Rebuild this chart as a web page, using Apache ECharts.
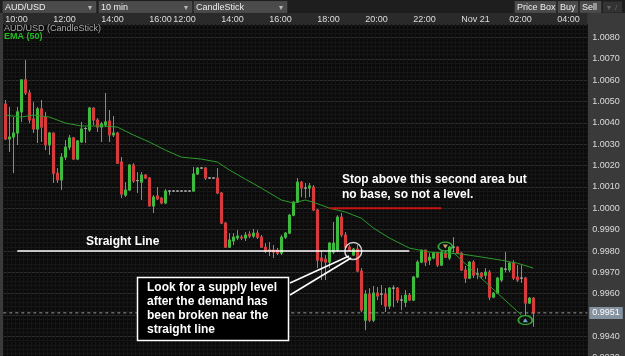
<!DOCTYPE html>
<html>
<head>
<meta charset="utf-8">
<script src="https://cdn.jsdelivr.net/npm/echarts@6/dist/echarts.min.js"></script>
<style>
  html, body { margin: 0; padding: 0; background: #3a3a3a; }
  #chart { width: 625px; height: 356px; }
</style>
</head>
<body>
<div id="chart"></div>
<script>
var FONT = "'Liberation Sans', Arial, sans-serif";

// 10 min AUD/USD candles: [open, close, low, high]
var candles = [
  [1.00489, 1.00325, 1.00320, 1.00508], [1.00325, 1.00334, 1.00264, 1.00475], [1.00334, 1.00353, 1.00165, 1.00428],
  [1.00353, 1.00452, 1.00297, 1.00475], [1.00452, 1.00602, 1.00405, 1.00602], [1.00602, 1.00541, 1.00531, 1.00695],
  [1.00541, 1.00414, 1.00400, 1.00555], [1.00419, 1.00372, 1.00353, 1.00498], [1.00372, 1.00466, 1.00306, 1.00475],
  [1.00466, 1.00381, 1.00311, 1.00508], [1.00428, 1.00297, 1.00273, 1.00452], [1.00297, 1.00353, 1.00250, 1.00358],
  [1.00353, 1.00165, 1.00119, 1.00353], [1.00165, 1.00133, 1.00119, 1.00189], [1.00133, 1.00240, 1.00086, 1.00259],
  [1.00240, 1.00287, 1.00226, 1.00320], [1.00287, 1.00330, 1.00273, 1.00344], [1.00330, 1.00231, 1.00226, 1.00334],
  [1.00231, 1.00316, 1.00226, 1.00320], [1.00311, 1.00372, 1.00306, 1.00405], [1.00374, 1.00374, 1.00306, 1.00381],
  [1.00367, 1.00470, 1.00358, 1.00475], [1.00470, 1.00414, 1.00390, 1.00470], [1.00414, 1.00381, 1.00358, 1.00423],
  [1.00381, 1.00395, 1.00311, 1.00405], [1.00391, 1.00405, 1.00381, 1.00541], [1.00409, 1.00344, 1.00311, 1.00461],
  [1.00344, 1.00353, 1.00334, 1.00433], [1.00353, 1.00212, 1.00208, 1.00358], [1.00217, 1.00067, 1.00048, 1.00240],
  [1.00062, 1.00086, 1.00053, 1.00123], [1.00086, 1.00203, 1.00081, 1.00208], [1.00203, 1.00128, 1.00119, 1.00212],
  [1.00130, 1.00130, 1.00072, 1.00170], [1.00123, 1.00156, 1.00039, 1.00170], [1.00156, 1.00142, 1.00137, 1.00160],
  [1.00142, 1.00011, 1.00011, 1.00147], [1.00011, 1.00053, 0.99978, 1.00062], [1.00058, 1.00044, 1.00039, 1.00100],
  [1.00048, 1.00025, 1.00020, 1.00053], [1.00025, 1.00081, 1.00020, 1.00090], [1.00081, 1.00081, 1.00062, 1.00086],
  [1.00081, 1.00081, 1.00081, 1.00081], [1.00081, 1.00081, 1.00081, 1.00081], [1.00081, 1.00081, 1.00081, 1.00081],
  [1.00081, 1.00081, 1.00081, 1.00081], [1.00081, 1.00081, 1.00081, 1.00081], [1.00081, 1.00161, 1.00081, 1.00194],
  [1.00161, 1.00189, 1.00156, 1.00194], [1.00189, 1.00189, 1.00189, 1.00189], [1.00189, 1.00142, 1.00133, 1.00194],
  [1.00142, 1.00142, 1.00142, 1.00142], [1.00142, 1.00142, 1.00142, 1.00142], [1.00142, 1.00072, 1.00067, 1.00189],
  [1.00072, 0.99931, 0.99926, 1.00076], [0.99931, 0.99818, 0.99814, 0.99935], [0.99818, 0.99851, 0.99814, 0.99884],
  [0.99847, 0.99865, 0.99828, 0.99884], [0.99861, 0.99870, 0.99851, 0.99898], [0.99865, 0.99861, 0.99851, 0.99875],
  [0.99861, 0.99875, 0.99847, 0.99889], [0.99879, 0.99870, 0.99861, 0.99893], [0.99870, 0.99884, 0.99861, 0.99903],
  [0.99884, 0.99865, 0.99856, 0.99898], [0.99865, 0.99818, 0.99814, 0.99875], [0.99818, 0.99800, 0.99790, 0.99837],
  [0.99805, 0.99800, 0.99776, 0.99842], [0.99804, 0.99795, 0.99767, 0.99828], [0.99804, 0.99790, 0.99781, 0.99814],
  [0.99790, 0.99865, 0.99781, 0.99875], [0.99865, 0.99884, 0.99856, 0.99889], [0.99884, 0.99968, 0.99879, 0.99973],
  [0.99968, 1.00029, 0.99963, 1.00034], [1.00029, 1.00123, 1.00025, 1.00142], [1.00123, 1.00095, 1.00053, 1.00128],
  [1.00095, 1.00095, 1.00048, 1.00119], [1.00095, 1.00105, 1.00053, 1.00119], [1.00100, 0.99992, 0.99987, 1.00109],
  [0.99992, 0.99757, 0.99720, 0.99997], [0.99767, 0.99753, 0.99664, 0.99804], [0.99762, 0.99748, 0.99664, 0.99781],
  [0.99748, 0.99837, 0.99720, 0.99842], [0.99795, 0.99837, 0.99786, 0.99936], [0.99804, 0.99959, 0.99795, 0.99968],
  [0.99959, 0.99875, 0.99865, 0.99978], [0.99875, 0.99818, 0.99809, 0.99889], [0.99818, 0.99805, 0.99800, 0.99828],
  [0.99781, 0.99809, 0.99776, 0.99814], [0.99809, 0.99706, 0.99701, 0.99828], [0.99706, 0.99523, 0.99513, 0.99720],
  [0.99476, 0.99598, 0.99429, 0.99617], [0.99598, 0.99476, 0.99467, 0.99626], [0.99476, 0.99603, 0.99467, 0.99636],
  [0.99603, 0.99589, 0.99570, 0.99631], [0.99598, 0.99598, 0.99547, 0.99640], [0.99598, 0.99542, 0.99514, 0.99626],
  [0.99542, 0.99626, 0.99528, 0.99631], [0.99626, 0.99626, 0.99537, 0.99640], [0.99626, 0.99570, 0.99556, 0.99631],
  [0.99570, 0.99570, 0.99523, 0.99593], [0.99560, 0.99593, 0.99537, 0.99617], [0.99593, 0.99570, 0.99565, 0.99603],
  [0.99570, 0.99678, 0.99565, 0.99683], [0.99678, 0.99748, 0.99673, 0.99757], [0.99748, 0.99804, 0.99743, 0.99806],
  [0.99804, 0.99748, 0.99729, 0.99806], [0.99757, 0.99771, 0.99734, 0.99790], [0.99767, 0.99790, 0.99762, 0.99795],
  [0.99790, 0.99734, 0.99725, 0.99795], [0.99734, 0.99795, 0.99730, 0.99800], [0.99790, 0.99771, 0.99767, 0.99804],
  [0.99767, 0.99818, 0.99757, 0.99823], [0.99818, 0.99818, 0.99795, 0.99865], [0.99818, 0.99790, 0.99786, 0.99823],
  [0.99790, 0.99711, 0.99706, 0.99795], [0.99711, 0.99673, 0.99650, 0.99730], [0.99673, 0.99748, 0.99668, 0.99752],
  [0.99748, 0.99687, 0.99673, 0.99757], [0.99692, 0.99692, 0.99668, 0.99720], [0.99696, 0.99682, 0.99673, 0.99701],
  [0.99687, 0.99701, 0.99668, 0.99720], [0.99701, 0.99584, 0.99570, 0.99711], [0.99584, 0.99603, 0.99579, 0.99607],
  [0.99603, 0.99673, 0.99598, 0.99678], [0.99664, 0.99720, 0.99654, 0.99725], [0.99715, 0.99715, 0.99701, 0.99795],
  [0.99711, 0.99743, 0.99701, 0.99748], [0.99743, 0.99673, 0.99664, 0.99757], [0.99678, 0.99664, 0.99654, 0.99734],
  [0.99673, 0.99673, 0.99650, 0.99734], [0.99673, 0.99556, 0.99499, 0.99678], [0.99556, 0.99579, 0.99551, 0.99584],
  [0.99579, 0.99509, 0.99445, 0.99584]
];

// EMA(50): [candle index, value]
var ema = [
  [0, 1.00437], [4, 1.00428], [7, 1.00437], [11, 1.00428], [15, 1.00400], [19, 1.00386], [24, 1.00386],
  [28, 1.00381], [32, 1.00344], [36, 1.00311], [40, 1.00273], [44, 1.00240], [49, 1.00231], [53, 1.00217],
  [56, 1.00180], [60, 1.00137], [64, 1.00095], [69, 1.00039], [72, 1.00025], [75, 1.00039], [77, 1.00029],
  [81, 1.00001], [85, 0.99983], [89, 0.99954], [92, 0.99908], [96, 0.99861], [101, 0.99814], [106, 0.99795],
  [114, 0.99786], [119, 0.99772], [124, 0.99757], [128, 0.99743], [132, 0.99720]
];

var slotCount = 146;
var tickIndex = [0, 12, 24, 36, 42, 54, 66, 78, 90, 102, 114, 126, 138];
var tickLabels = ['10:00', '12:00', '14:00', '16:00', '12:00', '14:00', '16:00', '18:00', '20:00', '22:00', 'Nov 21', '02:00', '04:00'];
var lastPrice = 0.9951;

// annotation levels
var priceLine = [[0, lastPrice], [slotCount, lastPrice]];
var straightLine = [[3, 0.9980], [101, 0.9980]];
var stopLine = [[81, 1.0000], [109, 1.0000]];
var swingLine = [[111, 0.99810], [129, 0.99500]];
var brokenPoint = [[87, 0.99800]];
var swingMarks = [[110, 0.99821], [130, 0.99476]];

var categories = [];
for (var i = 0; i < slotCount; i++) categories.push('c' + i);

function isTick(index) { return tickIndex.indexOf(index) >= 0; }

var bodies = candles.map(function (c) {
  return [c[0], c[1], Math.min(c[0], c[1]), Math.max(c[0], c[1])];
});

var chart = echarts.init(document.getElementById('chart'));

function headerBox(x, w, text, arrow) {
  var els = [{
    type: 'rect', z: 5, shape: { x: x, y: 1.5, width: w, height: 11 },
    style: { fill: '#4b4b4b', stroke: '#5a5a5a', lineWidth: 0.5 }
  }, {
    type: 'text', z: 6, x: x + 2, y: 7.3,
    style: { text: text, fill: '#eeeeee', font: '9px ' + FONT, verticalAlign: 'middle' }
  }];
  if (arrow) {
    els.push({ type: 'text', z: 6, x: x + w - 6, y: 7.3,
      style: { text: '\u25BE', fill: '#bbbbbb', font: '8px ' + FONT, align: 'center', verticalAlign: 'middle' } });
  }
  return els;
}

var graphics = [
  { type: 'rect', z: -10, shape: { x: 0, y: 0, width: 625, height: 13 }, style: { fill: '#1e1e1e' } },
  { type: 'rect', z: -10, shape: { x: 3, y: 13, width: 584.3, height: 11 }, style: { fill: '#2a2a2a' } }
]
  .concat(headerBox(3, 93, 'AUD/USD', true))
  .concat(headerBox(99, 93, '10 min', true))
  .concat(headerBox(194, 93, 'CandleStick', true))
  .concat(headerBox(515, 41, 'Price Box', false))
  .concat(headerBox(558, 20, 'Buy', false))
  .concat(headerBox(580, 21, 'Sell', false))
  .concat([
    { type: 'rect', z: 5, shape: { x: 603, y: 1.5, width: 19, height: 11 }, style: { fill: '#333333' } },
    { type: 'text', z: 6, x: 607, y: 7.3, style: { text: '\u25BE', fill: '#666', font: '8px ' + FONT, verticalAlign: 'middle' } },
    { type: 'text', z: 6, x: 615, y: 7.3, style: { text: '/', fill: '#666', font: '8px ' + FONT, verticalAlign: 'middle' } },
    // legend
    { type: 'text', z: 20, x: 4, y: 29, style: { text: 'AUD/USD (CandleStick)', fill: '#a8a8a8', font: '9px ' + FONT, verticalAlign: 'middle' } },
    { type: 'text', z: 20, x: 4, y: 36.5, style: { text: 'EMA (50)', fill: '#22bb22', font: 'bold 9px ' + FONT, verticalAlign: 'middle' } },
    // annotations
    { type: 'text', z: 20, x: 86, y: 242, style: { text: 'Straight Line', fill: '#ffffff', font: 'bold 12px ' + FONT, verticalAlign: 'middle' } },
    { type: 'text', z: 20, x: 342, y: 172, style: { text: 'Stop above this second area but\nno base, so not a level.', fill: '#ffffff', font: 'bold 12px ' + FONT, lineHeight: 15, verticalAlign: 'top' } },
    { type: 'line', z: 20, shape: { x1: 290, y1: 283, x2: 349, y2: 256 }, style: { stroke: '#ffffff', lineWidth: 1.5 } },
    { type: 'line', z: 20, shape: { x1: 290, y1: 295, x2: 351, y2: 258 }, style: { stroke: '#ffffff', lineWidth: 1.5 } },
    { type: 'rect', z: 20, shape: { x: 137.5, y: 277.5, width: 151, height: 63 }, style: { fill: '#000000', stroke: '#ffffff', lineWidth: 1.5 } },
    { type: 'text', z: 21, x: 147, y: 281, style: { text: 'Look for a supply level\nafter the demand has\nbeen broken near the\nstraight line', fill: '#ffffff', font: 'bold 12px ' + FONT, lineHeight: 14, verticalAlign: 'top' } }
  ]);

var ellipse = 'path://M0,50 A50,50 0 1,1 100,50 A50,50 0 1,1 0,50 Z';

var option = {
  animation: false,
  backgroundColor: '#3a3a3a',
  textStyle: { fontFamily: FONT },
  grid: {
    left: 3.3, top: 24, width: 584, height: 333.7, show: true, backgroundColor: '#0b0b0b', borderWidth: 0,
    containLabel: false, outerBoundsMode: 'none'
  },
  xAxis: [{
    type: 'category', data: categories, position: 'top', boundaryGap: true,
    axisLine: { show: false }, axisTick: { show: false },
    axisLabel: {
      interval: function (index) { return isTick(index); },
      formatter: function (v, index) { return tickLabels[tickIndex.indexOf(index)]; },
      color: '#dddddd', fontSize: 9, align: 'left', margin: 0
    },
    splitLine: { show: true, interval: function (index) { return isTick(index); }, lineStyle: { color: '#343434', width: 1 } }
  }, {
    type: 'value', min: 0, max: slotCount, interval: 1, position: 'top',
    axisLine: { show: false }, axisTick: { show: false }, axisLabel: { show: false },
    splitLine: { show: true, lineStyle: { color: '#151515', width: 1 } }
  }],
  yAxis: {
    type: 'value', position: 'right', min: 0.9930, max: 1.00864, interval: 0.001,
    axisLine: { show: false }, axisTick: { show: false },
    axisLabel: {
      color: '#dcdcdc', fontSize: 9, margin: 5, showMaxLabel: false,
      formatter: function (v) { return v.toFixed(4); }
    },
    splitLine: { lineStyle: { color: '#2c2c2c' } },
    minorTick: { show: false, splitNumber: 5 },
    minorSplitLine: { show: true, lineStyle: { color: '#161616' } }
  },
  graphic: graphics,
  series: [{
    type: 'candlestick', name: 'wicks', data: candles, barWidth: 2, silent: true,
    itemStyle: { color: 'transparent', color0: 'transparent', borderColor: '#8a8a8a', borderColor0: '#8a8a8a', borderColorDoji: '#8a8a8a', borderWidth: 1 }
  }, {
    type: 'candlestick', name: 'AUD/USD', data: bodies, barWidth: 2,
    itemStyle: { color: '#3dbb3d', color0: '#d63a3a', borderColor: '#3dbb3d', borderColor0: '#d63a3a', borderColorDoji: '#a8a8a8', borderWidth: 1 }
  }, {
    type: 'line', name: 'last', xAxisIndex: 1, data: priceLine, symbol: 'none', silent: true, z: 4,
    lineStyle: { color: '#9a9a9a', width: 1, type: [3, 3] },
    endLabel: {
      show: true, formatter: lastPrice.toFixed(4), distance: 2,
      color: '#ffffff', fontSize: 9, backgroundColor: '#8593a0', padding: [2, 3, 1, 3]
    }
  }, {
    type: 'line', name: 'EMA (50)', data: ema, symbol: 'none', silent: true,
    lineStyle: { color: '#2c9a2c', width: 1 }
  }, {
    type: 'line', name: 'straight', data: straightLine, symbol: 'none', silent: true, z: 5,
    lineStyle: { color: '#ffffff', width: 1.5 }
  }, {
    type: 'line', name: 'stop', data: stopLine, symbol: 'none', silent: true, z: 5,
    lineStyle: { color: '#c81414', width: 2 }
  }, {
    type: 'line', name: 'swing', data: swingLine, symbol: 'none', silent: true, z: 5,
    lineStyle: { color: '#2c9a2c', width: 1 }
  }, {
    type: 'scatter', name: 'broken', data: brokenPoint, symbol: 'circle', symbolSize: 17, silent: true, z: 6,
    itemStyle: { color: 'rgba(0,0,0,0)', borderColor: '#ffffff', borderWidth: 1.5 }
  }, {
    type: 'scatter', name: 'swings', data: swingMarks, symbol: ellipse, symbolSize: [14, 9], silent: true, z: 6,
    itemStyle: { color: 'rgba(0,0,0,0)', borderColor: '#3ccc3c', borderWidth: 1.5 }
  }, {
    type: 'scatter', name: 'high', data: [swingMarks[0]], symbol: 'triangle', symbolSize: [5, 4], symbolRotate: 180, silent: true, z: 7,
    itemStyle: { color: '#f2cf86' }
  }, {
    type: 'scatter', name: 'low', data: [swingMarks[1]], symbol: 'triangle', symbolSize: [5, 4], silent: true, z: 7,
    itemStyle: { color: '#8fd0f4' }
  }]
};

chart.setOption(option);
</script>
</body>
</html>
